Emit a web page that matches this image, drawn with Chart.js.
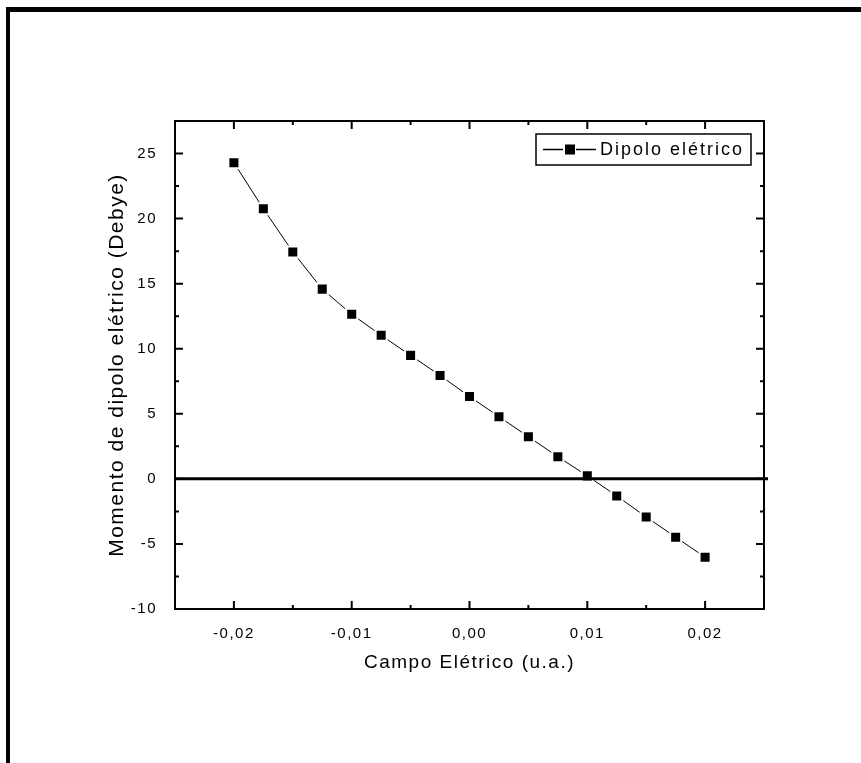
<!DOCTYPE html>
<html>
<head>
<meta charset="utf-8">
<script src="https://cdn.jsdelivr.net/npm/chart.js@4.4.0/dist/chart.umd.min.js"></script>
<style>
    html, body { margin: 0; padding: 0; background: #fff; }
    #wrap { width: 861px; height: 763px; }
</style>
</head>
<body>
<div id="wrap"><canvas id="chart" width="861" height="763"></canvas></div>
<script>
// Dados
const campo = [-0.02, -0.0175, -0.015, -0.0125, -0.01, -0.0075, -0.005, -0.0025, 0,
               0.0025, 0.005, 0.0075, 0.01, 0.0125, 0.015, 0.0175, 0.02];
const dipolo = [24.3, 20.76, 17.44, 14.58, 12.65, 11.03, 9.49, 7.95, 6.33,
                4.78, 3.24, 1.70, 0.23, -1.31, -2.93, -4.48, -6.02];

const xTicks = [-0.02, -0.01, 0, 0.01, 0.02];
const xMinor = [-0.015, -0.005, 0.005, 0.015];
const yTicks = [-10, -5, 0, 5, 10, 15, 20, 25];
const yMinor = [-7.5, -2.5, 2.5, 7.5, 12.5, 17.5, 22.5];

const serieLabel = 'Dipolo elétrico';
const xTitle = 'Campo Elétrico (u.a.)';
const yTitle = 'Momento de dipolo elétrico (Debye)';

const fonte = 'Arial, "Liberation Sans", sans-serif';

function formatX(v) {
    if (Math.abs(v) < 1e-9) v = 0;
    return v.toFixed(2).replace('.', ',');
}

// moldura, caixa dos eixos, ticks internos, linha do zero e legenda
const moldura = {
    id: 'moldura',
    beforeDraw(chart) {
        const ctx = chart.ctx;
        ctx.save();
        ctx.fillStyle = '#fff';
        ctx.fillRect(0, 0, chart.width, chart.height);
        ctx.fillStyle = '#000';
        ctx.fillRect(6, 7, chart.width, 5);
        ctx.fillRect(6, 7, 4, chart.height);
        ctx.restore();
        ctx.letterSpacing = '1.5px';
    },
    afterDatasetsDraw(chart) {
        const { ctx, chartArea: a, scales: { x, y } } = chart;
        ctx.save();
        ctx.strokeStyle = '#000';

        // linha em y = 0
        const y0 = y.getPixelForValue(0);
        ctx.lineWidth = 3;
        ctx.beginPath();
        ctx.moveTo(a.left, y0);
        ctx.lineTo(a.right + 4, y0);
        ctx.stroke();

        // caixa
        ctx.lineWidth = 2;
        ctx.strokeRect(a.left, a.top, a.right - a.left, a.bottom - a.top);

        // ticks para dentro nos quatro lados
        ctx.lineWidth = 2;
        ctx.beginPath();
        const tickX = (vals, len) => vals.forEach(v => {
            const px = x.getPixelForValue(v);
            ctx.moveTo(px, a.bottom); ctx.lineTo(px, a.bottom - len);
            ctx.moveTo(px, a.top); ctx.lineTo(px, a.top + len);
        });
        const tickY = (vals, len) => vals.forEach(v => {
            const py = y.getPixelForValue(v);
            ctx.moveTo(a.left, py); ctx.lineTo(a.left + len, py);
            ctx.moveTo(a.right, py); ctx.lineTo(a.right - len, py);
        });
        tickX(xTicks, 8);
        tickX(xMinor, 4);
        tickY(yTicks, 8);
        tickY(yMinor, 4);
        ctx.stroke();

        // legenda
        const bw = 215, bh = 31;
        const bx = a.right - 13 - bw, by = a.top + 13;
        const cy = by + bh / 2;
        ctx.lineWidth = 1.5;
        ctx.strokeRect(bx, by, bw, bh);
        ctx.beginPath();
        ctx.moveTo(bx + 7, cy);
        ctx.lineTo(bx + 27, cy);
        ctx.moveTo(bx + 40, cy);
        ctx.lineTo(bx + 60, cy);
        ctx.stroke();
        ctx.fillStyle = '#000';
        ctx.fillRect(bx + 29, cy - 5, 10, 10);
        ctx.letterSpacing = '2px';
        ctx.font = '18px ' + fonte;
        ctx.textBaseline = 'middle';
        ctx.textAlign = 'left';
        ctx.fillText(chart.data.datasets[0].label, bx + 64, cy + 1);
        ctx.restore();
    }
};

new Chart(document.getElementById('chart'), {
    type: 'line',
    data: {
        datasets: [{
            label: serieLabel,
            data: campo.map((v, i) => ({ x: v, y: dipolo[i] })),
            borderColor: '#000',
            borderWidth: 1,
            pointStyle: 'rect',
            pointRadius: 7.8,
            pointBackgroundColor: '#000',
            pointBorderColor: '#fff',
            pointBorderWidth: 2,
            tension: 0,
            fill: false
        }]
    },
    options: {
        responsive: false,
        animation: false,
        devicePixelRatio: 1,
        layout: { padding: { left: 100, right: 97, top: 121, bottom: 60 } },
        plugins: {
            legend: { display: false },
            tooltip: { enabled: false }
        },
        scales: {
            x: {
                type: 'linear',
                min: -0.025,
                max: 0.025,
                afterBuildTicks: s => { s.ticks = xTicks.map(v => ({ value: v })); },
                afterFit: s => { s.height = 94; },
                grid: { display: false, drawTicks: false },
                border: { display: false },
                ticks: {
                    color: '#000',
                    font: { size: 15, family: fonte },
                    padding: 16,
                    maxRotation: 0,
                    autoSkip: false,
                    callback: v => formatX(v)
                },
                title: {
                    display: true,
                    text: xTitle,
                    color: '#000',
                    font: { size: 19, family: fonte },
                    padding: { top: 0, bottom: 29 }
                }
            },
            y: {
                type: 'linear',
                min: -10,
                max: 27.5,
                afterBuildTicks: s => { s.ticks = yTicks.map(v => ({ value: v })); },
                afterFit: s => { s.width = 75; },
                grid: { display: false, drawTicks: false },
                border: { display: false },
                ticks: {
                    color: '#000',
                    font: { size: 15, family: fonte },
                    padding: 18
                },
                title: {
                    display: true,
                    text: yTitle,
                    color: '#000',
                    font: { size: 21, family: fonte },
                    padding: { top: 5, bottom: 0 }
                }
            }
        }
    },
    plugins: [moldura]
});
</script>
</body>
</html>
